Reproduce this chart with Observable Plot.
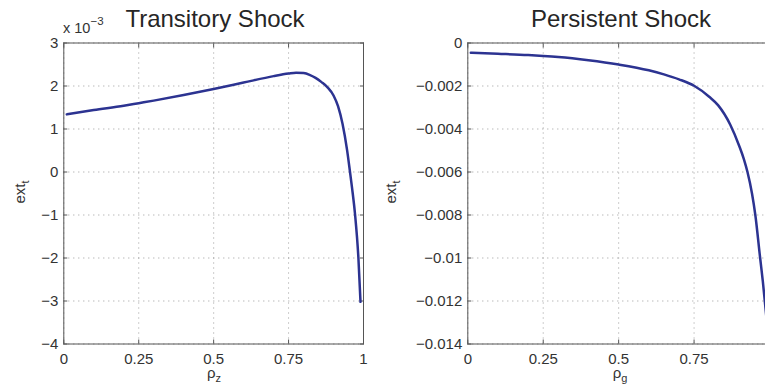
<!DOCTYPE html>
<html>
<head>
<meta charset="utf-8">
<script src="https://cdn.jsdelivr.net/npm/d3@7"></script>
<script src="https://cdn.jsdelivr.net/npm/@observablehq/plot@0.6"></script>
<style>
  html, body { margin: 0; padding: 0; background: #fff; overflow: hidden; width: 765px; height: 387px; }
  #wrap { position: relative; width: 765px; height: 387px; overflow: hidden; background: #fff; }
  #wrap svg { position: absolute; top: 0; }
</style>
</head>
<body>
<div id="wrap"></div>
<script>
// Transitory shock: ext_t (in units of 10^-3) against the persistence rho_z
const rhoZ = [0.01, 0.1, 0.2, 0.25, 0.3, 0.4, 0.5, 0.6, 0.7, 0.75, 0.775, 0.8, 0.82, 0.84, 0.86, 0.88, 0.9, 0.915, 0.93, 0.945, 0.955, 0.962, 0.972, 0.983, 0.99];
const extTransitory = [1.34, 1.44, 1.54, 1.60, 1.66, 1.79, 1.93, 2.08, 2.23, 2.29, 2.31, 2.30, 2.26, 2.19, 2.09, 1.97, 1.78, 1.53, 1.12, 0.52, 0.0, -0.38, -1.0, -2.0, -3.02];

// Persistent shock: ext_t against the persistence rho_g
const rhoG = [0.01, 0.1, 0.2, 0.25, 0.3, 0.4, 0.5, 0.6, 0.65, 0.7, 0.75, 0.8, 0.83, 0.87, 0.9, 0.915, 0.927, 0.942, 0.953, 0.969, 0.978, 0.99];
const extPersistent = [-0.00045, -0.00050, -0.00056, -0.00060, -0.00065, -0.00080, -0.00100, -0.00127, -0.00146, -0.00169, -0.00199, -0.0025, -0.0029, -0.0038, -0.0048, -0.0054, -0.0060, -0.0070, -0.0080, -0.0100, -0.0111, -0.0128];

const xTicks = [0, 0.25, 0.5, 0.75, 1];
const yTicksTransitory = [-4, -3, -2, -1, 0, 1, 2, 3];
const yTicksPersistent = [0, -0.002, -0.004, -0.006, -0.008, -0.01, -0.012, -0.014];
const panelTitles = ["Transitory Shock", "Persistent Shock"];
const xLabelSubscripts = ["z", "g"];

const FONT = "'Liberation Sans', Arial, Helvetica, sans-serif";
const LINE = "#2c3391";
const AXIS = "#555";
const GRID = "#8c8c8c";

function panel({x, y, yDomain, yTicks, yFormat, xLabelTicks, width, marginLeft, marginRight}) {
  const data = x.map((v, i) => ({rho: v, ext: y[i]}));
  return Plot.plot({
    width,
    height: 387,
    marginTop: 42.5,
    marginBottom: 43.5,
    marginLeft,
    marginRight,
    style: {fontFamily: FONT, fontSize: "15px", color: "#333", background: "transparent", overflow: "visible"},
    x: {domain: [0, 1], label: null},
    y: {domain: yDomain, label: null},
    marks: [
      Plot.gridX(xTicks, {stroke: GRID, strokeOpacity: 0.85, strokeDasharray: "1,4"}),
      Plot.gridY(yTicks, {stroke: GRID, strokeOpacity: 0.85, strokeDasharray: "1,4"}),
      Plot.axisX(xTicks, {tickSize: -4, tickFormat: () => "", stroke: AXIS, label: null}),
      Plot.axisX(xLabelTicks, {tickSize: 0, tickPadding: 9, tickFormat: d => String(d), label: null}),
      Plot.axisX(xTicks, {anchor: "top", tickSize: -4, tickFormat: () => "", stroke: AXIS, label: null}),
      Plot.axisY(yTicks, {tickSize: -4, tickPadding: 9.5, tickFormat: yFormat, stroke: AXIS, label: null}),
      Plot.axisY(yTicks, {anchor: "right", tickSize: -4, tickFormat: () => "", stroke: AXIS, label: null}),
      Plot.frame({stroke: AXIS}),
      Plot.line(data, {x: "rho", y: "ext", stroke: LINE, strokeWidth: 2.5, curve: "monotone-x"})
    ]
  });
}

const minus = v => (v < 0 ? "\u2212" : "") + String(Math.abs(v));

const left = panel({
  x: rhoZ, y: extTransitory, yDomain: [-4, 3], yTicks: yTicksTransitory,
  yFormat: d => minus(d), xLabelTicks: xTicks,
  width: 380, marginLeft: 63.3, marginRight: 17
});
// the right panel runs past the page edge, so its last tick label is left out
const right = panel({
  x: rhoG, y: extPersistent, yDomain: [-0.014, 0], yTicks: yTicksPersistent,
  yFormat: d => minus(+d.toFixed(3)), xLabelTicks: xTicks.filter(t => t < 1),
  width: 400, marginLeft: 87.3, marginRight: 11
});

const wrap = document.getElementById("wrap");
left.style.left = "0px";
right.style.left = "380px";
wrap.appendChild(left);
wrap.appendChild(right);

// Titles and axis labels
function decorate(svg, {title, titleX, sub, xLabelX, yLabelX}) {
  const s = d3.select(svg);
  s.append("text")
    .attr("x", titleX).attr("y", 27)
    .attr("text-anchor", "middle")
    .attr("font-family", FONT).attr("font-size", 24).attr("fill", "#262626")
    .text(title);

  const xl = s.append("text")
    .attr("x", xLabelX).attr("y", 378)
    .attr("text-anchor", "middle")
    .attr("font-family", FONT).attr("font-size", 15).attr("fill", "#333");
  xl.append("tspan").text("\u03c1");
  xl.append("tspan").attr("font-size", 11).attr("dy", 4).text(sub);

  const yl = s.append("text")
    .attr("transform", `translate(${yLabelX},192) rotate(-90)`)
    .attr("text-anchor", "middle")
    .attr("font-family", FONT).attr("font-size", 15).attr("fill", "#333");
  yl.append("tspan").text("ext");
  yl.append("tspan").attr("font-size", 11).attr("dy", 4).text("t");
}

decorate(left, {title: panelTitles[0], titleX: 215, sub: xLabelSubscripts[0], xLabelX: 214, yLabelX: 25});
decorate(right, {title: panelTitles[1], titleX: 241, sub: xLabelSubscripts[1], xLabelX: 240, yLabelX: 16});

// Exponent for the left axis: x 10^-3
const ex = d3.select(left).append("text")
  .attr("x", 63).attr("y", 33)
  .attr("text-anchor", "start")
  .attr("font-family", FONT).attr("font-size", 14.5).attr("fill", "#333");
ex.append("tspan").text("x 10");
ex.append("tspan").attr("font-size", 11.5).attr("dy", -8).text("\u22123");
</script>
</body>
</html>
